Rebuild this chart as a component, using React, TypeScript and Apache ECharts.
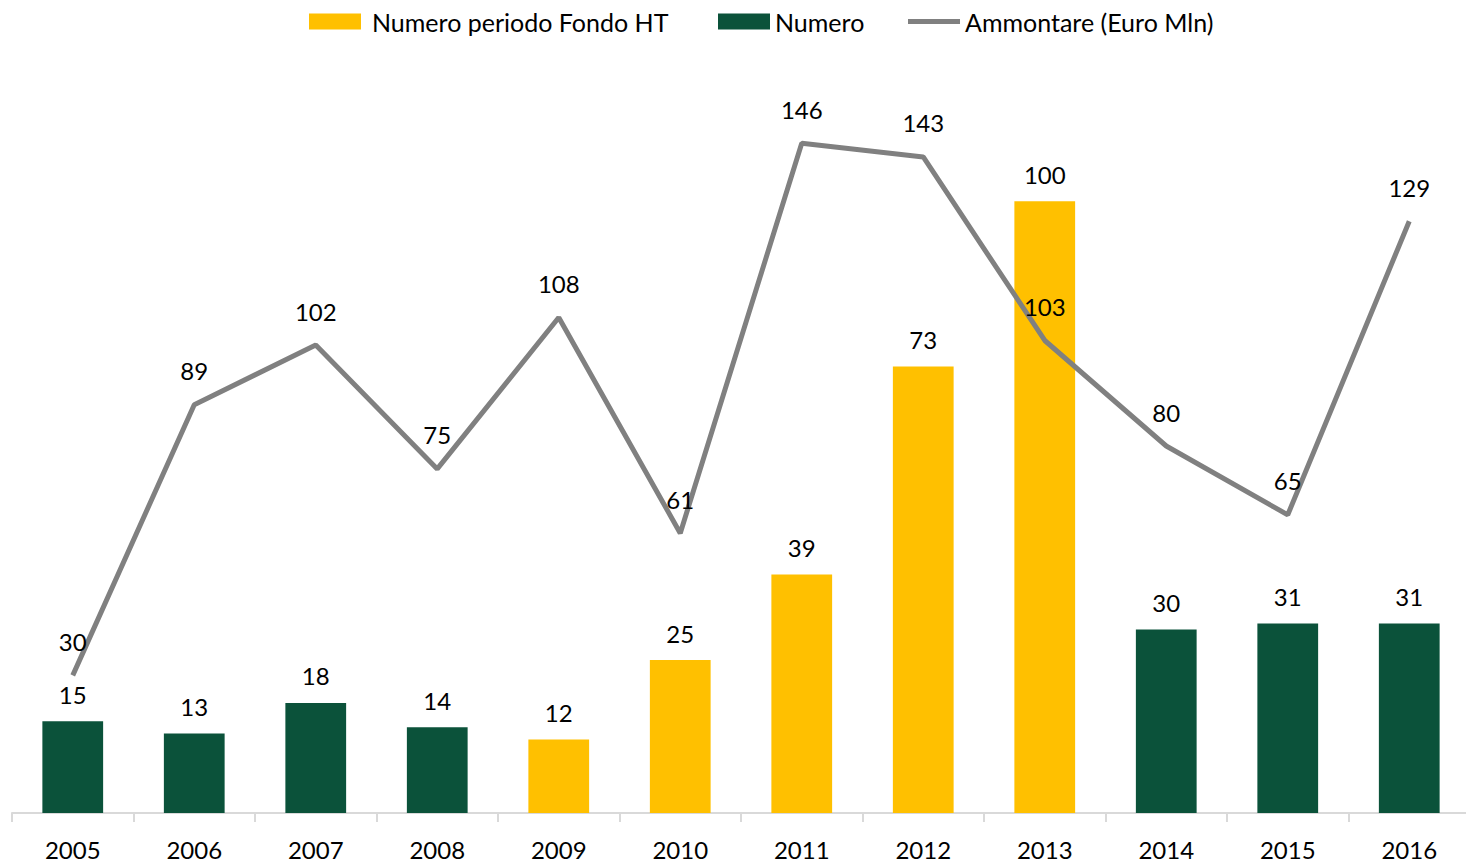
import React, { useEffect, useRef } from "react";
import * as echarts from "echarts";

const years = ["2005", "2006", "2007", "2008", "2009", "2010", "2011", "2012", "2013", "2014", "2015", "2016"];
const numeroFondoHT = [null, null, null, null, 12, 25, 39, 73, 100, null, null, null];
const numero = [15, 13, 18, 14, null, null, null, null, null, 30, 31, 31];
const ammontare = [30, 89, 102, 75, 108, 61, 146, 143, 103, 80, 65, 129];

const FONT = "Lato";

export default function App() {
  const ref = useRef<HTMLDivElement>(null);
  useEffect(() => {
    const chart = echarts.init(ref.current!, null, { renderer: "svg" });
    const labelStyle = { show: true, color: "#000", fontSize: 24, fontFamily: FONT };
    const legendBase = {
      top: 4,
      itemWidth: 52,
      itemHeight: 16,
      textStyle: { fontSize: 25, color: "#000", fontFamily: FONT },
    };
    chart.setOption({
      animation: false,
      textStyle: { fontFamily: FONT },
      legend: [
        {
          ...legendBase,
          left: 304,
          textStyle: { ...legendBase.textStyle, padding: [0, 0, 0, 6] },
          data: [{ name: "Numero periodo Fondo HT", icon: "rect" }],
        },
        { ...legendBase, left: 713, data: [{ name: "Numero", icon: "rect" }] },
        {
          ...legendBase,
          left: 903,
          data: [{ name: "Ammontare (Euro Mln)", icon: "path://M0,0h52v5h-52z" }],
        },
      ],
      grid: { left: 12, right: 4, top: 79, bottom: 50, containLabel: false },
      xAxis: {
        type: "category",
        data: years,
        axisLine: { lineStyle: { color: "#d9d9d9", width: 2 } },
        axisTick: { show: true, length: 9, lineStyle: { color: "#d9d9d9", width: 2 } },
        axisLabel: { color: "#000", fontSize: 24, fontFamily: FONT, margin: 24 },
      },
      yAxis: [
        { type: "value", min: 0, max: 120, show: false, splitLine: { show: false } },
        { type: "value", min: 0, max: 160, show: false, splitLine: { show: false } },
      ],
      series: [
        {
          name: "Numero periodo Fondo HT",
          type: "bar",
          stack: "n",
          data: numeroFondoHT,
          barWidth: "50%",
          itemStyle: { color: "#FFC000" },
          label: { ...labelStyle, position: "top", distance: 15 },
        },
        {
          name: "Numero",
          type: "bar",
          stack: "n",
          data: numero,
          barWidth: "50%",
          itemStyle: { color: "#0B523A" },
          label: { ...labelStyle, position: "top", distance: 15 },
        },
        {
          name: "Ammontare (Euro Mln)",
          type: "line",
          yAxisIndex: 1,
          data: ammontare,
          symbol: "circle",
          symbolSize: 0,
          showSymbol: true,
          lineStyle: { color: "#808080", width: 5 },
          itemStyle: { color: "#808080" },
          label: { ...labelStyle, position: "top", distance: 22 },
          z: 5,
        },
      ],
    });
    return () => chart.dispose();
  }, []);
  return (
    <div
      style={{
        position: "fixed",
        left: 0,
        top: 0,
        width: 1466,
        height: 863,
        overflow: "hidden",
        background: "#fff",
      }}
    >
      <div ref={ref} style={{ width: 1474, height: 863 }} />
    </div>
  );
}
